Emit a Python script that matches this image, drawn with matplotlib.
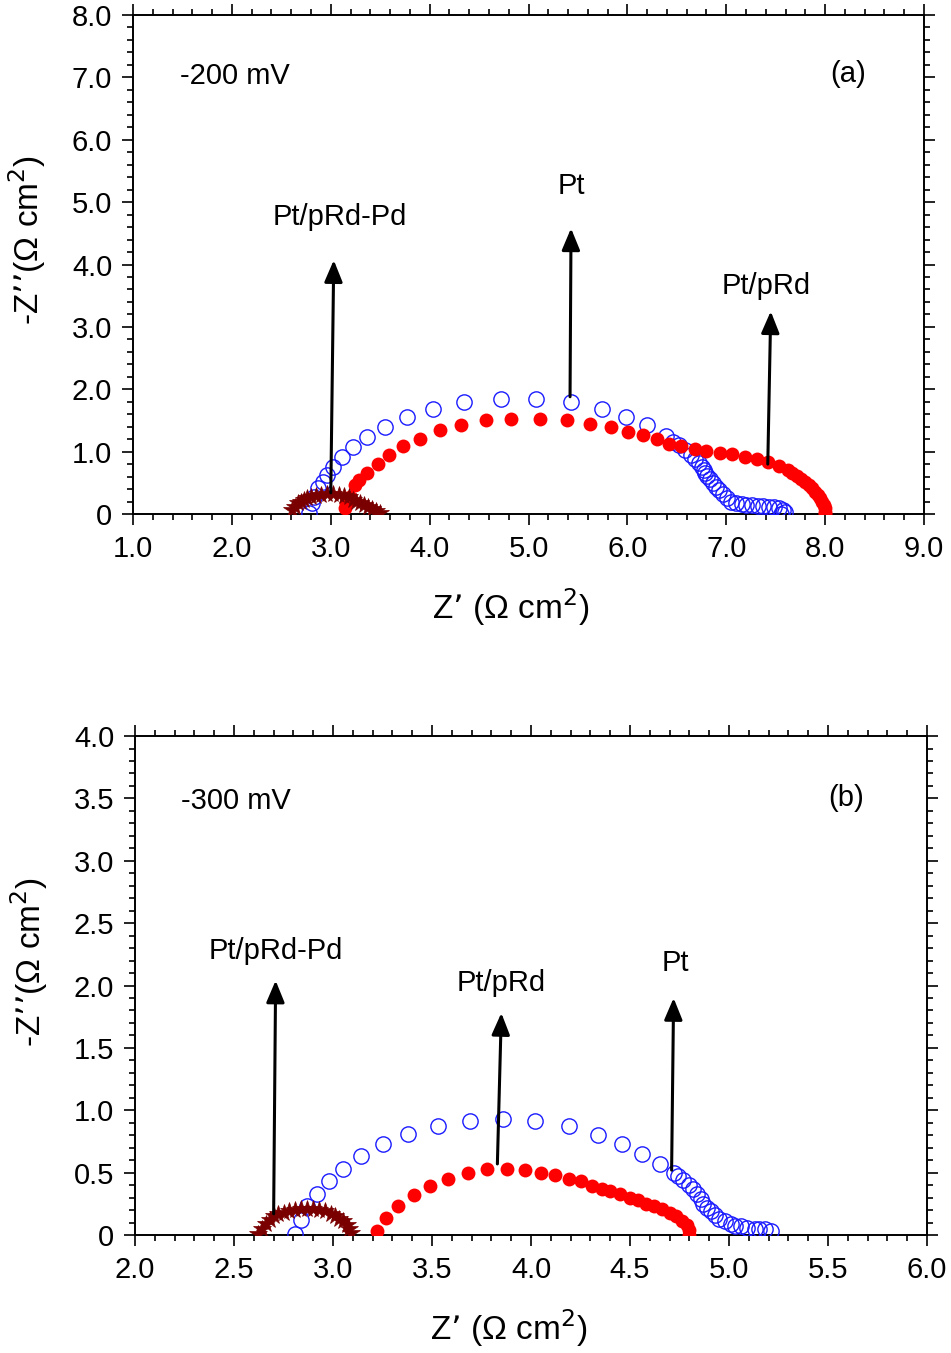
import matplotlib
matplotlib.use('Agg')
import matplotlib.pyplot as plt
from matplotlib import font_manager
from matplotlib.ticker import MultipleLocator, FuncFormatter

# fonts: narrow face for the numbers if it is there
names = set(f.name for f in font_manager.fontManager.ttflist)
num_font = 'Liberation Sans Narrow' if 'Liberation Sans Narrow' in names else 'Liberation Sans'
txt_font = 'Liberation Sans'
plt.rcParams['font.family'] = [txt_font, 'DejaVu Sans']

# ---- -200 mV data (Z', -Z'') ----
pt_a_x = [2.78, 2.81, 2.83, 2.87, 2.92, 2.96, 3.02, 3.11, 3.22, 3.37, 3.55, 3.77, 4.03, 4.35,
          4.72, 5.08, 5.43, 5.74, 5.99, 6.20, 6.39, 6.46, 6.52, 6.58, 6.64, 6.68, 6.72, 6.75,
          6.77, 6.79, 6.81, 6.84, 6.87, 6.90, 6.93, 6.97, 7.01, 7.05, 7.10, 7.16, 7.20, 7.26,
          7.32, 7.37, 7.43, 7.48, 7.53, 7.57, 7.59, 7.55]
pt_a_y = [0.01, 0.17, 0.28, 0.41, 0.52, 0.63, 0.76, 0.91, 1.07, 1.24, 1.39, 1.56, 1.69, 1.79,
          1.84, 1.84, 1.79, 1.69, 1.56, 1.42, 1.25, 1.16, 1.11, 1.03, 0.95, 0.88, 0.81, 0.75,
          0.71, 0.65, 0.61, 0.56, 0.49, 0.44, 0.38, 0.32, 0.25, 0.20, 0.17, 0.16, 0.14, 0.14,
          0.13, 0.13, 0.12, 0.12, 0.09, 0.07, 0.04, 0.00]

prd_a_x = [3.14, 3.15, 3.19, 3.25, 3.29, 3.37, 3.48, 3.59, 3.73, 3.90, 4.10, 4.32, 4.57, 4.82,
           5.12, 5.39, 5.62, 5.83, 6.01, 6.16, 6.30, 6.42, 6.54, 6.68, 6.80, 6.94, 7.06, 7.19,
           7.31, 7.42, 7.53, 7.62, 7.66, 7.72, 7.76, 7.80, 7.84, 7.87, 7.90, 7.93, 7.95, 7.97,
           7.99, 8.00, 8.00, 8.00]
prd_a_y = [0.09, 0.17, 0.28, 0.47, 0.55, 0.65, 0.80, 0.94, 1.09, 1.21, 1.34, 1.43, 1.51, 1.53,
           1.52, 1.51, 1.44, 1.39, 1.32, 1.26, 1.20, 1.12, 1.09, 1.04, 1.01, 0.98, 0.96, 0.92,
           0.88, 0.84, 0.77, 0.70, 0.65, 0.61, 0.56, 0.52, 0.47, 0.41, 0.36, 0.30, 0.25, 0.20,
           0.14, 0.09, 0.04, 0.00]

prdpd_a_x = [2.61, 2.64, 2.67, 2.70, 2.73, 2.76, 2.80, 2.85, 2.90, 2.96, 3.02, 3.08, 3.13,
             3.18, 3.22, 3.26, 3.30, 3.34, 3.38, 3.42, 3.46, 3.50]
prdpd_a_y = [0.06, 0.12, 0.17, 0.20, 0.23, 0.25, 0.27, 0.29, 0.31, 0.32, 0.32, 0.30, 0.29,
             0.27, 0.23, 0.20, 0.17, 0.14, 0.11, 0.08, 0.05, 0.02]

# ---- -300 mV data ----
pt_b_x = [2.81, 2.84, 2.87, 2.92, 2.98, 3.05, 3.14, 3.25, 3.38, 3.53, 3.69, 3.86, 4.02, 4.19,
          4.34, 4.46, 4.56, 4.65, 4.72, 4.74, 4.77, 4.80, 4.82, 4.84, 4.86, 4.87, 4.89, 4.91,
          4.93, 4.95, 4.98, 5.01, 5.03, 5.06, 5.09, 5.13, 5.15, 5.18, 5.21]
pt_b_y = [0.01, 0.12, 0.23, 0.33, 0.43, 0.53, 0.63, 0.73, 0.81, 0.87, 0.91, 0.93, 0.91, 0.87,
          0.80, 0.73, 0.65, 0.57, 0.50, 0.47, 0.44, 0.40, 0.37, 0.33, 0.29, 0.25, 0.22, 0.19,
          0.16, 0.13, 0.11, 0.09, 0.07, 0.07, 0.06, 0.05, 0.05, 0.05, 0.03]

prd_b_x = [3.22, 3.27, 3.33, 3.41, 3.49, 3.58, 3.68, 3.78, 3.88, 3.97, 4.05, 4.12, 4.19, 4.25,
           4.31, 4.36, 4.40, 4.45, 4.50, 4.54, 4.58, 4.62, 4.66, 4.70, 4.73, 4.76, 4.79, 4.80,
           4.80]
prd_b_y = [0.03, 0.14, 0.23, 0.32, 0.39, 0.45, 0.50, 0.53, 0.53, 0.52, 0.50, 0.48, 0.45, 0.43,
           0.39, 0.37, 0.35, 0.33, 0.30, 0.28, 0.25, 0.23, 0.21, 0.18, 0.15, 0.11, 0.08, 0.04,
           0.00]

prdpd_b_x = [2.62, 2.64, 2.66, 2.68, 2.70, 2.72, 2.75, 2.78, 2.81, 2.84, 2.87, 2.90, 2.93,
             2.96, 2.99, 3.01, 3.03, 3.05, 3.07, 3.08, 3.09]
prdpd_b_y = [0.01, 0.05, 0.09, 0.12, 0.15, 0.17, 0.18, 0.19, 0.20, 0.21, 0.21, 0.21, 0.20,
             0.19, 0.17, 0.15, 0.13, 0.11, 0.08, 0.05, 0.02]

# arrow annotations: label, (label x, y), arrow base, arrow tip
notes_a = [('Pt/pRd-Pd', (3.09, 4.76), (3.00, 0.34), (3.03, 4.07)),
           ('Pt', (5.43, 5.26), (5.42, 1.88), (5.43, 4.58)),
           ('Pt/pRd', (7.40, 3.65), (7.42, 0.80), (7.45, 3.25))]
notes_b = [('Pt/pRd-Pd', (2.71, 2.28), (2.70, 0.17), (2.71, 2.04)),
           ('Pt/pRd', (3.85, 2.02), (3.83, 0.57), (3.85, 1.78)),
           ('Pt', (4.73, 2.18), (4.71, 0.52), (4.72, 1.90))]

fig = plt.figure(figsize=(9.51, 13.53), dpi=100)
ax1 = fig.add_axes([0.1399, 0.6201, 0.8317, 0.3688])
ax2 = fig.add_axes([0.1420, 0.0872, 0.8328, 0.3688])


def draw(ax, pt, prd, prdpd, notes):
    ax.plot(pt[0], pt[1], 'o', mfc='none', mec='#1a1aff', mew=1.0, ms=11, zorder=3)
    ax.plot(prd[0], prd[1], 'o', color='#ff0000', ms=10, mew=0, zorder=4)
    ax.plot(prdpd[0], prdpd[1], '*', color='#7a0000', ms=13, mew=0.5, zorder=5)
    for lab, lpos, base, tip in notes:
        ax.annotate('', xy=tip, xytext=base,
                    arrowprops=dict(arrowstyle='-|>,head_length=0.6,head_width=0.25',
                                    lw=2.2, color='black', mutation_scale=22,
                                    shrinkA=0, shrinkB=0), zorder=6)
        ax.text(lpos[0], lpos[1], lab, ha='center', va='center', fontsize=21)


def style_axes(ax, xlim, ylim, xmaj, xmin, ymaj, ymin, xl_pos, yl_pos):
    ax.set_xlim(*xlim)
    ax.set_ylim(*ylim)
    ax.xaxis.set_major_locator(MultipleLocator(xmaj))
    ax.xaxis.set_minor_locator(MultipleLocator(xmin))
    ax.yaxis.set_major_locator(MultipleLocator(ymaj))
    ax.yaxis.set_minor_locator(MultipleLocator(ymin))
    ax.xaxis.set_major_formatter(FuncFormatter(lambda v, p: '%.1f' % v))
    ax.yaxis.set_major_formatter(FuncFormatter(lambda v, p: '0' if abs(v) < 1e-9 else '%.1f' % v))
    ax.tick_params(which='both', direction='out', top=True, right=True,
                   labeltop=False, labelright=False, width=1.2)
    ax.tick_params(which='major', length=8, labelsize=21, pad=7)
    ax.tick_params(which='minor', length=4.5)
    for lab in ax.get_xticklabels() + ax.get_yticklabels():
        lab.set_fontfamily(num_font)
    for s in ax.spines.values():
        s.set_linewidth(1.4)
    ax.set_xlabel('Z\u2019 (\u03a9 cm$^{2}$)', fontsize=24)
    ax.set_ylabel('-Z\u2019\u2019(\u03a9 cm$^{2}$)', fontsize=24)
    ax.xaxis.set_label_coords(xl_pos, -0.145)
    ax.yaxis.set_label_coords(-0.107, yl_pos)


draw(ax1, (pt_a_x, pt_a_y), (prd_a_x, prd_a_y), (prdpd_a_x, prdpd_a_y), notes_a)
style_axes(ax1, (1.0, 9.0), (0, 8.0), 1.0, 0.2, 1.0, 0.2, 0.477, 0.549)
ax1.text(2.03, 7.03, '-200 mV', ha='center', va='center', fontsize=21)
ax1.text(8.23, 7.05, '(a)', ha='center', va='center', fontsize=21)

draw(ax2, (pt_b_x, pt_b_y), (prd_b_x, prd_b_y), (prdpd_b_x, prdpd_b_y), notes_b)
style_axes(ax2, (2.0, 6.0), (0, 4.0), 0.5, 0.1, 0.5, 0.1, 0.472, 0.547)
ax2.text(2.51, 3.48, '-300 mV', ha='center', va='center', fontsize=21)
ax2.text(5.59, 3.50, '(b)', ha='center', va='center', fontsize=21)

fig.savefig('out.png', dpi=100)
